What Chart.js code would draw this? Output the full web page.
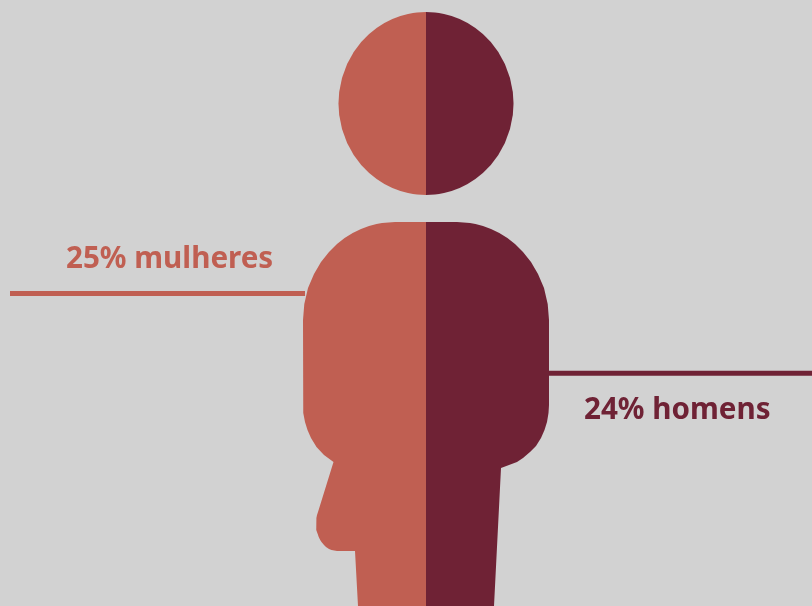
<!DOCTYPE html>
<html lang="pt">
<head>
<meta charset="utf-8">
<title>Mulheres e homens</title>
<script src="https://cdn.jsdelivr.net/npm/chart.js@4/dist/chart.umd.min.js"></script>
<style>
  html, body { margin: 0; padding: 0; background: #d2d2d2; overflow: hidden; }
  canvas { display: block; }
</style>
</head>
<body>
<canvas id="figura" width="812" height="606"></canvas>
<script>
const grupos = ["mulheres", "homens"];
const percentuais = [25, 24];
const cores = ["#c05f52", "#6f2235"];

// silhouette outline, one edge per side, null row separates head from body
const linhasEsq = [12, 12.5, 13, 14, 16, 19, 23, 28, 34, 42, 52, 64, 78, 92, 103.5, 115, 129, 143, 155, 165, 173, 179, 184, 188, 191, 193, 194, 194.5, 195,
  208,
  222, 223, 224, 226, 229, 233, 238, 244, 252, 262, 274, 288, 304, 320, 405, 413, 422, 430, 438, 447, 455, 462,
  512, 515, 518, 520, 523, 527, 530, 534, 537, 540, 542, 545, 547, 549, 550, 551, 551.01, 606];
const bordaEsq = [426, 417, 413, 408, 400.4, 392.4, 384.4, 376.6, 369.1, 361.2, 353.7, 347.1, 342, 339.2, 338.5, 339.2, 342, 347.1, 353.7, 361.2, 369.1, 376.6, 384.4, 392.4, 400.4, 408, 413, 417, 426,
  null,
  395, 382, 376.5, 369, 361, 352.7, 344.6, 337, 329, 321, 314, 308, 304.3, 303, 303, 303.5, 305, 307.5, 311, 316.5, 324, 333.5,
  318, 317, 316.4, 316.1, 316, 316.2, 316.7, 317.7, 318.7, 320.2, 321.5, 324, 326, 329, 331.5, 337, 355, 358];

const linhasDir = [12, 12.5, 13, 14, 16, 19, 23, 28, 34, 42, 52, 64, 78, 92, 103.5, 115, 129, 143, 155, 165, 173, 179, 184, 188, 191, 193, 194, 194.5, 195,
  208,
  222, 223, 224, 226, 229, 233, 238, 244, 252, 262, 274, 288, 304, 320, 405, 413, 422, 430, 438, 446, 452, 458, 462, 465, 468, 606];
const bordaDir = [426, 435, 439, 444, 451.6, 459.6, 467.6, 475.4, 482.9, 490.8, 498.3, 504.9, 510, 512.8, 513.5, 512.8, 510, 504.9, 498.3, 490.8, 482.9, 475.4, 467.6, 459.6, 451.6, 444, 439, 435, 426,
  null,
  457, 470, 475.5, 483, 491, 499.3, 507.4, 515, 523, 531, 538, 544, 547.7, 549, 549, 548.5, 547, 544.5, 541, 536, 530, 523, 517, 509, 501, 494];

// leader lines running out from the figure
const guiaEsqX = [10, 305];
const guiaEsqY = [293.5, 293.5];
const guiaDirX = [549, 812];
const guiaDirY = [373.3, 373.3];

const eixoCentral = 426;

function pontos(linhas, valores) {
  return linhas.map((y, i) => ({ x: valores[i], y: y }));
}

function metade(i, linhas, borda) {
  return {
    label: grupos[i],
    data: pontos(linhas, borda),
    borderWidth: 0,
    borderColor: "transparent",
    backgroundColor: cores[i],
    pointRadius: 0,
    tension: 0,
    fill: { value: eixoCentral }
  };
}

function guia(i, xs, ys) {
  return {
    label: grupos[i] + " guia",
    data: pontos(ys, xs),
    borderColor: cores[i],
    borderWidth: 5,
    borderCapStyle: "butt",
    pointRadius: 0,
    fill: false
  };
}

// percentage captions sitting next to the leader lines
const rotulos = {
  id: "rotulos",
  afterDatasetsDraw(chart) {
    const { ctx, scales: { x, y } } = chart;
    ctx.save();
    ctx.font = "bold 29.6px 'Noto Sans'";
    ctx.textBaseline = "alphabetic";
    ctx.textAlign = "left";
    ctx.fillStyle = cores[0];
    ctx.fillText(percentuais[0] + "% " + grupos[0], x.getPixelForValue(66), y.getPixelForValue(268));
    ctx.fillStyle = cores[1];
    ctx.fillText(percentuais[1] + "% " + grupos[1], x.getPixelForValue(584), y.getPixelForValue(419));
    ctx.restore();
  }
};

new Chart(document.getElementById("figura").getContext("2d"), {
  type: "line",
  data: {
    datasets: [
      metade(1, linhasDir, bordaDir),
      metade(0, linhasEsq, bordaEsq),
      guia(0, guiaEsqX, guiaEsqY),
      guia(1, guiaDirX, guiaDirY)
    ]
  },
  options: {
    indexAxis: "y",
    responsive: false,
    animation: false,
    spanGaps: false,
    layout: { padding: 0 },
    plugins: { legend: { display: false }, tooltip: { enabled: false } },
    scales: {
      x: { type: "linear", display: false, min: 0, max: 812 },
      y: { type: "linear", display: false, min: 0, max: 606, reverse: true }
    }
  },
  plugins: [rotulos]
});
</script>
</body>
</html>
